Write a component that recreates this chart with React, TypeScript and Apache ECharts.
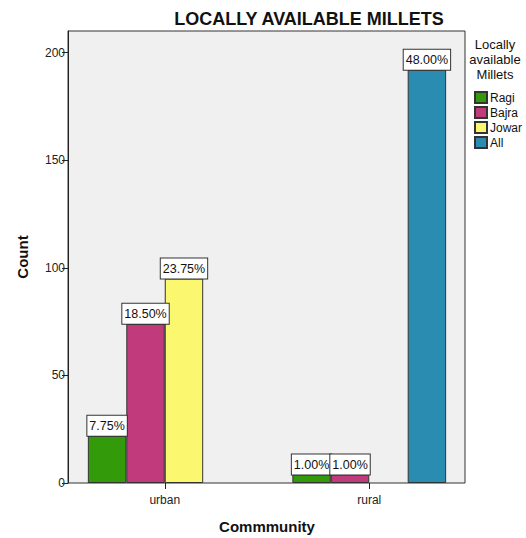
import React, { useEffect, useRef } from "react";
import * as echarts from "echarts";

const categories = ["urban", "rural"];
const seriesNames = ["Ragi", "Bajra", "Jowar", "All"];
const ragiCounts = [22, 4];
const bajraCounts = [74, 4];
const jowarCounts = [95, null];
const allCounts = [null, 192];
const ragiPct = ["7.75%", "1.00%"];
const bajraPct = ["18.50%", "1.00%"];
const jowarPct = ["23.75%", ""];
const allPct = ["", "48.00%"];
const yTicks = [0, 50, 100, 150, 200];
const colors = ["#339A0A", "#C03A7C", "#FBF870", "#2A8CB0"];

export default function App() {
  const ref = useRef<HTMLDivElement>(null);
  useEffect(() => {
    if (!ref.current) return;
    const chart = echarts.init(ref.current, null, { renderer: "svg" });
    const font = "'Liberation Sans', Arial, sans-serif";
    const values = [ragiCounts, bajraCounts, jowarCounts, allCounts];
    const pcts = [ragiPct, bajraPct, jowarPct, allPct];
    chart.setOption({
      animation: false,
      backgroundColor: "#ffffff",
      textStyle: { fontFamily: font },
      grid: {
        left: 62.5,
        right: 54.5,
        top: 31,
        bottom: 55,
        show: false,
        containLabel: false,
        outerBoundsMode: "none",
      },
      legend: {
        orient: "vertical",
        left: 474,
        top: 91,
        padding: 0,
        itemWidth: 12,
        itemHeight: 11,
        itemGap: 2,
        icon: "rect",
        data: seriesNames,
        textStyle: { fontSize: 12, color: "#111", fontFamily: font, padding: [0, 0, 0, -2] },
      },
      graphic: [
        {
          type: "rect",
          z: -10,
          silent: true,
          shape: { x: 68, y: 31, width: 397, height: 452 },
          style: { fill: "#F0F0F0", stroke: "#333", lineWidth: 1 },
        },
        {
          type: "text",
          z: 10,
          style: {
            text: "LOCALLY AVAILABLE MILLETS",
            x: 309,
            y: 18.5,
            textAlign: "center",
            textVerticalAlign: "middle",
            fontSize: 18,
            fontWeight: "bold",
            fill: "#111",
            fontFamily: font,
          },
        },
        {
          type: "text",
          z: 10,
          style: {
            text: "Locally\navailable\nMillets",
            x: 495,
            y: 37,
            textAlign: "center",
            fontSize: 13,
            lineHeight: 15,
            fill: "#111",
            fontFamily: font,
          },
        },
      ],
      xAxis: {
        type: "category",
        data: categories,
        name: "Commmunity",
        nameLocation: "middle",
        nameGap: 36,
        nameTextStyle: { fontSize: 15, fontWeight: "bold", color: "#111", fontFamily: font },
        axisLine: { show: false },
        axisTick: { show: true, alignWithLabel: true, length: 6, lineStyle: { color: "#222" } },
        axisLabel: { fontSize: 12, color: "#222", margin: 11, fontFamily: font },
      },
      yAxis: {
        type: "value",
        min: 0,
        max: 210,
        interval: 50,
        offset: -5.5,
        name: "Count",
        nameLocation: "middle",
        nameGap: 38,
        nameTextStyle: { fontSize: 15, fontWeight: "bold", color: "#111", fontFamily: font },
        splitLine: { show: false },
        axisLine: { show: true, lineStyle: { color: "#222", width: 1 } },
        axisTick: { show: true, length: 6, customValues: yTicks, lineStyle: { color: "#222" } },
        axisLabel: { fontSize: 12, color: "#222", margin: 3, customValues: yTicks, fontFamily: font },
      },
      series: seriesNames.map((name, i) => ({
        name,
        type: "bar",
        data: values[i],
        barGap: 0,
        barCategoryGap: "24.8%",
        itemStyle: { color: colors[i], borderColor: "#333", borderWidth: 1 },
        label: {
          show: true,
          position: "top",
          distance: 0,
          formatter: (p: any) => pcts[i][p.dataIndex],
          fontSize: 12.5,
          color: "#111",
          fontFamily: font,
          backgroundColor: "#ffffff",
          borderColor: "#333",
          borderWidth: 1,
          padding: [4, 2, 3, 2],
        },
      })),
    });
    return () => chart.dispose();
  }, []);
  return (
    <div
      ref={ref}
      style={{ position: "fixed", left: 0, top: 0, width: 526, height: 538 }}
    />
  );
}
